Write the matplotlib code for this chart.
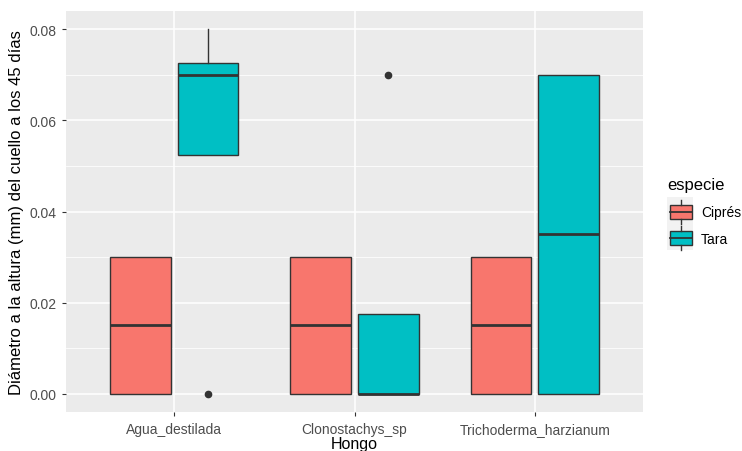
import matplotlib.pyplot as plt
from matplotlib.patches import Rectangle
from matplotlib.lines import Line2D

plt.rcParams['font.family'] = ['Liberation Sans', 'DejaVu Sans']

hongos = ['Agua_destilada', 'Clonostachys_sp', 'Trichoderma_harzianum']
especies = ['Ciprés', 'Tara']
colores = {'Ciprés': '#F8766D', 'Tara': '#00BFC4'}

# box statistics, per especie, per hongo
q1 = {'Ciprés': [0.0, 0.0, 0.0], 'Tara': [0.0523, 0.0, 0.0]}
med = {'Ciprés': [0.015, 0.015, 0.015], 'Tara': [0.070, 0.0, 0.035]}
q3 = {'Ciprés': [0.030, 0.030, 0.030], 'Tara': [0.0726, 0.0175, 0.070]}
whislo = {'Ciprés': [0.0, 0.0, 0.0], 'Tara': [0.0523, 0.0, 0.0]}
whishi = {'Ciprés': [0.030, 0.030, 0.030], 'Tara': [0.080, 0.0175, 0.070]}
fliers = {'Ciprés': [[], [], []], 'Tara': [[0.0], [0.070], []]}

edge = '#333333'
W, H = 742, 452
fig = plt.figure(figsize=(W / 100, H / 100), dpi=100)
ax = fig.add_axes([66 / W, 1 - 413 / H, 577 / W, 401 / H])
ax.set_facecolor('#EBEBEB')

offsets = {'Ciprés': -0.1875, 'Tara': 0.1875}
for esp in especies:
    stats = []
    for i in range(len(hongos)):
        stats.append(dict(q1=q1[esp][i], med=med[esp][i], q3=q3[esp][i],
                          whislo=whislo[esp][i], whishi=whishi[esp][i],
                          fliers=fliers[esp][i]))
    pos = [i + 1 + offsets[esp] for i in range(len(hongos))]
    ax.bxp(stats, positions=pos, widths=0.3375, patch_artist=True,
           showcaps=False, manage_ticks=False,
           boxprops=dict(facecolor=colores[esp], edgecolor=edge, linewidth=1.0),
           medianprops=dict(color=edge, linewidth=2.0, solid_capstyle='butt'),
           whiskerprops=dict(color=edge, linewidth=1.0),
           flierprops=dict(marker='o', markerfacecolor=edge, markeredgecolor=edge,
                           markersize=4.5),
           zorder=3)

ax.set_xlim(0.4, 3.6)
ax.set_ylim(-0.004, 0.084)
ax.set_xticks([1, 2, 3])
ax.set_xticklabels(hongos)
ax.set_yticks([0, 0.02, 0.04, 0.06, 0.08])
ax.set_yticklabels(['0.00', '0.02', '0.04', '0.06', '0.08'])
ax.set_yticks([0.01, 0.03, 0.05, 0.07], minor=True)
ax.grid(which='major', color='white', linewidth=1.1, zorder=0)
ax.grid(which='minor', axis='y', color='white', linewidth=0.55, zorder=0)
ax.set_axisbelow(True)
for s in ax.spines.values():
    s.set_visible(False)
ax.tick_params(axis='both', which='major', colors='#333333', length=3,
               labelsize=10, labelcolor='#4D4D4D', width=0.8)
ax.tick_params(axis='x', which='major', pad=4)
ax.tick_params(axis='both', which='minor', length=0)
ax.set_xlabel('Hongo', fontsize=11.5, labelpad=0)
ax.set_ylabel('Diámetro a la altura (mm) del cuello a los 45 días', fontsize=12, labelpad=4)


# legend drawn by hand, in pixel positions of the figure
def px(x, y):
    return x / W, 1 - y / H


fig.text(*px(667, 186), 'especie', fontsize=12, va='center', ha='left')
fig.add_artist(Rectangle(px(667, 251), 26 / W, 53 / H, facecolor='#F2F2F2',
                         edgecolor='none', transform=fig.transFigure))
for k, esp in enumerate(especies):
    cy = 212.5 + k * 26.5
    fig.add_artist(Rectangle(px(670, cy + 7), 22 / W, 14 / H, facecolor=colores[esp],
                             edgecolor=edge, linewidth=1.0, transform=fig.transFigure))
    x0, y0 = px(670, cy)
    x1, _ = px(692, cy)
    fig.add_artist(Line2D([x0, x1], [y0, y0], color=edge, lw=1.3, transform=fig.transFigure))
    xm, yt = px(681, cy - 12)
    _, yb = px(681, cy - 7)
    fig.add_artist(Line2D([xm, xm], [yt, yb], color=edge, lw=1.0, transform=fig.transFigure))
    _, yt = px(681, cy + 7)
    _, yb = px(681, cy + 12)
    fig.add_artist(Line2D([xm, xm], [yt, yb], color=edge, lw=1.0, transform=fig.transFigure))
    fig.text(*px(701, cy + 1), esp, fontsize=10, va='center', ha='left', color='black')

fig.savefig('out.png', dpi=100)
